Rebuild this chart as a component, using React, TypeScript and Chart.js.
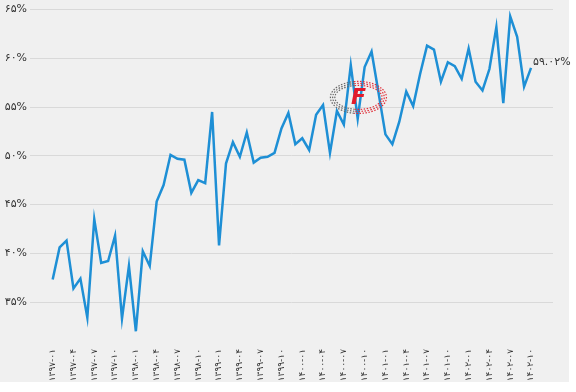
import React, { useEffect, useRef } from "react";
import { Chart, registerables } from "chart.js";

Chart.register(...registerables);

// Monthly values (%), from 1397-01 to 1402-10
const values: number[] = [
  37.3, 40.6, 41.3, 36.4, 37.4, 33.4, 43.5, 39.0, 39.2, 41.8,
  33.3, 38.7, 32.0, 40.2, 38.7, 45.3, 47.0, 50.1, 49.7, 49.6,
  46.2, 47.5, 47.2, 54.5, 40.8, 49.2, 51.4, 49.9, 52.4, 49.3,
  49.8, 49.9, 50.3, 52.8, 54.4, 51.2, 51.8, 50.6, 54.2, 55.2,
  50.3, 54.6, 53.2, 59.3, 53.8, 59.1, 60.7, 56.5, 52.2, 51.2,
  53.5, 56.6, 55.1, 58.4, 61.3, 60.9, 57.6, 59.6, 59.2, 57.9,
  61.0, 57.6, 56.7, 58.9, 63.2, 55.4, 64.3, 62.2, 57.1, 59.02,
];

// Quarterly tick labels (every 3rd month)
const tickLabels: string[] = [
  "۱۳۹۷-۰۱", "۱۳۹۷-۰۴", "۱۳۹۷-۰۷", "۱۳۹۷-۱۰",
  "۱۳۹۸-۰۱", "۱۳۹۸-۰۴", "۱۳۹۸-۰۷", "۱۳۹۸-۱۰",
  "۱۳۹۹-۰۱", "۱۳۹۹-۰۴", "۱۳۹۹-۰۷", "۱۳۹۹-۱۰",
  "۱۴۰۰-۰۱", "۱۴۰۰-۰۴", "۱۴۰۰-۰۷", "۱۴۰۰-۱۰",
  "۱۴۰۱-۰۱", "۱۴۰۱-۰۴", "۱۴۰۱-۰۷", "۱۴۰۱-۱۰",
  "۱۴۰۲-۰۱", "۱۴۰۲-۰۴", "۱۴۰۲-۰۷", "۱۴۰۲-۱۰",
];
const tickStep = 3;

const yTicks: number[] = [35, 40, 45, 50, 55, 60, 65];
const lastLabel = "۵۹.۰۲%";

const faDigits = "۰۱۲۳۴۵۶۷۸۹";
const toFa = (s: string) => s.replace(/[0-9]/g, (d) => faDigits[+d]);

const FONT = "'DejaVu Sans', sans-serif";

const lastLabelPlugin = {
  id: "lastLabel",
  afterDatasetsDraw(chart: any) {
    const meta = chart.getDatasetMeta(0);
    const pt = meta.data[meta.data.length - 1];
    if (!pt) return;
    const ctx = chart.ctx;
    ctx.save();
    ctx.font = `11px ${FONT}`;
    ctx.fillStyle = "#333";
    ctx.textAlign = "left";
    ctx.textBaseline = "middle";
    ctx.fillText(lastLabel, pt.x + 2, pt.y - 6);
    ctx.restore();
  },
};

const watermarkPlugin = {
  id: "watermark",
  afterDatasetsDraw(chart: any) {
    const { ctx, chartArea } = chart;
    const cx = chartArea.left + (chartArea.right - chartArea.left) * 0.628;
    const cy = chartArea.top + (chartArea.bottom - chartArea.top) * 0.265;
    ctx.save();
    ctx.lineWidth = 1.2;
    ctx.setLineDash([1.5, 1.5]);
    for (let r = 0; r < 3; r++) {
      ctx.strokeStyle = "#666";
      ctx.beginPath();
      ctx.ellipse(cx, cy, 28 - r * 2.2, 16 - r * 2, 0, Math.PI * 0.55, Math.PI * 1.45);
      ctx.stroke();
      ctx.strokeStyle = "#e0303a";
      ctx.beginPath();
      ctx.ellipse(cx, cy, 28 - r * 2.2, 16 - r * 2, 0, -Math.PI * 0.55, Math.PI * 0.55);
      ctx.stroke();
    }
    ctx.setLineDash([]);
    ctx.font = `italic bold 22px ${FONT}`;
    ctx.fillStyle = "#e21b2b";
    ctx.textAlign = "center";
    ctx.textBaseline = "middle";
    ctx.fillText("F", cx, cy + 1);
    ctx.restore();
  },
};

export default function App() {
  const ref = useRef<HTMLCanvasElement>(null);

  useEffect(() => {
    if (!ref.current) return;
    const lastIndex = values.length - 1;
    const chart = new Chart(ref.current, {
      type: "line",
      data: {
        datasets: [
          {
            data: values.map((v, i) => ({ x: i, y: v })),
            borderColor: "#1e8fd5",
            borderWidth: 2.5,
            pointRadius: 0,
            tension: 0,
            fill: false,
          },
        ],
      },
      options: {
        animation: false,
        responsive: false,
        maintainAspectRatio: false,
        layout: { padding: { top: 9, right: 23, bottom: 0, left: 0 } },
        plugins: {
          legend: { display: false },
          tooltip: { enabled: false },
        },
        scales: {
          x: {
            type: "linear",
            min: -3.27,
            max: lastIndex + 3.17,
            grid: { display: false, drawTicks: false },
            border: { display: false },
            afterBuildTicks: (scale: any) => {
              scale.ticks = tickLabels.map((_, i) => ({ value: i * tickStep }));
            },
            afterFit: (scale: any) => {
              scale.height = 51;
            },
            ticks: {
              autoSkip: false,
              minRotation: 90,
              maxRotation: 90,
              padding: 8,
              color: "#333",
              font: { family: FONT, size: 9 },
              callback: (v: any) => tickLabels[Math.round(Number(v) / tickStep)] ?? "",
            },
          },
          y: {
            min: 31,
            max: 65,
            grid: { color: "#d9d9d9", lineWidth: 1, drawTicks: false },
            border: { display: false },
            afterBuildTicks: (scale: any) => {
              scale.ticks = yTicks.map((v) => ({ value: v }));
            },
            afterFit: (scale: any) => {
              scale.width = 30;
            },
            ticks: {
              padding: 3,
              color: "#333",
              font: { family: FONT, size: 11 },
              callback: (v: any) => toFa(String(v)) + "%",
            },
          },
        },
      },
      plugins: [lastLabelPlugin, watermarkPlugin],
    });
    return () => chart.destroy();
  }, []);

  return (
    <div style={{ position: "fixed", left: 0, top: 0, width: 576, height: 392, background: "#fff" }}>
      <div style={{ position: "absolute", left: 0, top: 0, width: 569, height: 382, background: "#f0f0f0" }} />
      <canvas ref={ref} width={576} height={392} style={{ position: "absolute", left: 0, top: 0 }} />
    </div>
  );
}
